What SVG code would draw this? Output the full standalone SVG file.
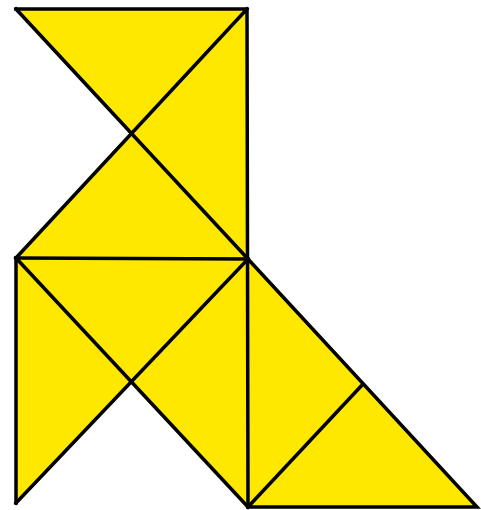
<svg xmlns="http://www.w3.org/2000/svg" width="481" height="510" viewBox="0 0 481 510">
<style>
.f{fill:#FFE800;stroke:none}
.l{stroke:#000;stroke-width:3.5;fill:none;stroke-linejoin:miter;stroke-linecap:square}
</style>
<rect width="481" height="510" fill="#fff"/>
<g id="shapes">
<polygon class="f" points="16,9 247,9 131,132"/>
<polygon class="f" points="247,9 248,259 131,132"/>
<polygon class="f" points="131,132 248,259 16,258"/>
<polygon class="f" points="16,258 248,259 131,383"/>
<polygon class="f" points="16,258 131,383 16,503"/>
<polygon class="f" points="248,259 248,507 131,383"/>
<polygon class="f" points="248,259 477,507 248,507"/>
</g>
<g id="connectors">
<polyline class="l" points="16,9 247,9 248,507 477,507 248,259"/>
<line class="l" x1="16" y1="9" x2="248" y2="259"/>
<line class="l" x1="247" y1="9" x2="16" y2="258"/>
<line class="l" x1="16" y1="258" x2="248" y2="259"/>
<line class="l" x1="16" y1="258" x2="16" y2="503"/>
<line class="l" x1="16" y1="258" x2="248" y2="507"/>
<line class="l" x1="248" y1="259" x2="16" y2="503"/>
<line class="l" x1="248" y1="507" x2="363" y2="384"/>
</g>
</svg>
